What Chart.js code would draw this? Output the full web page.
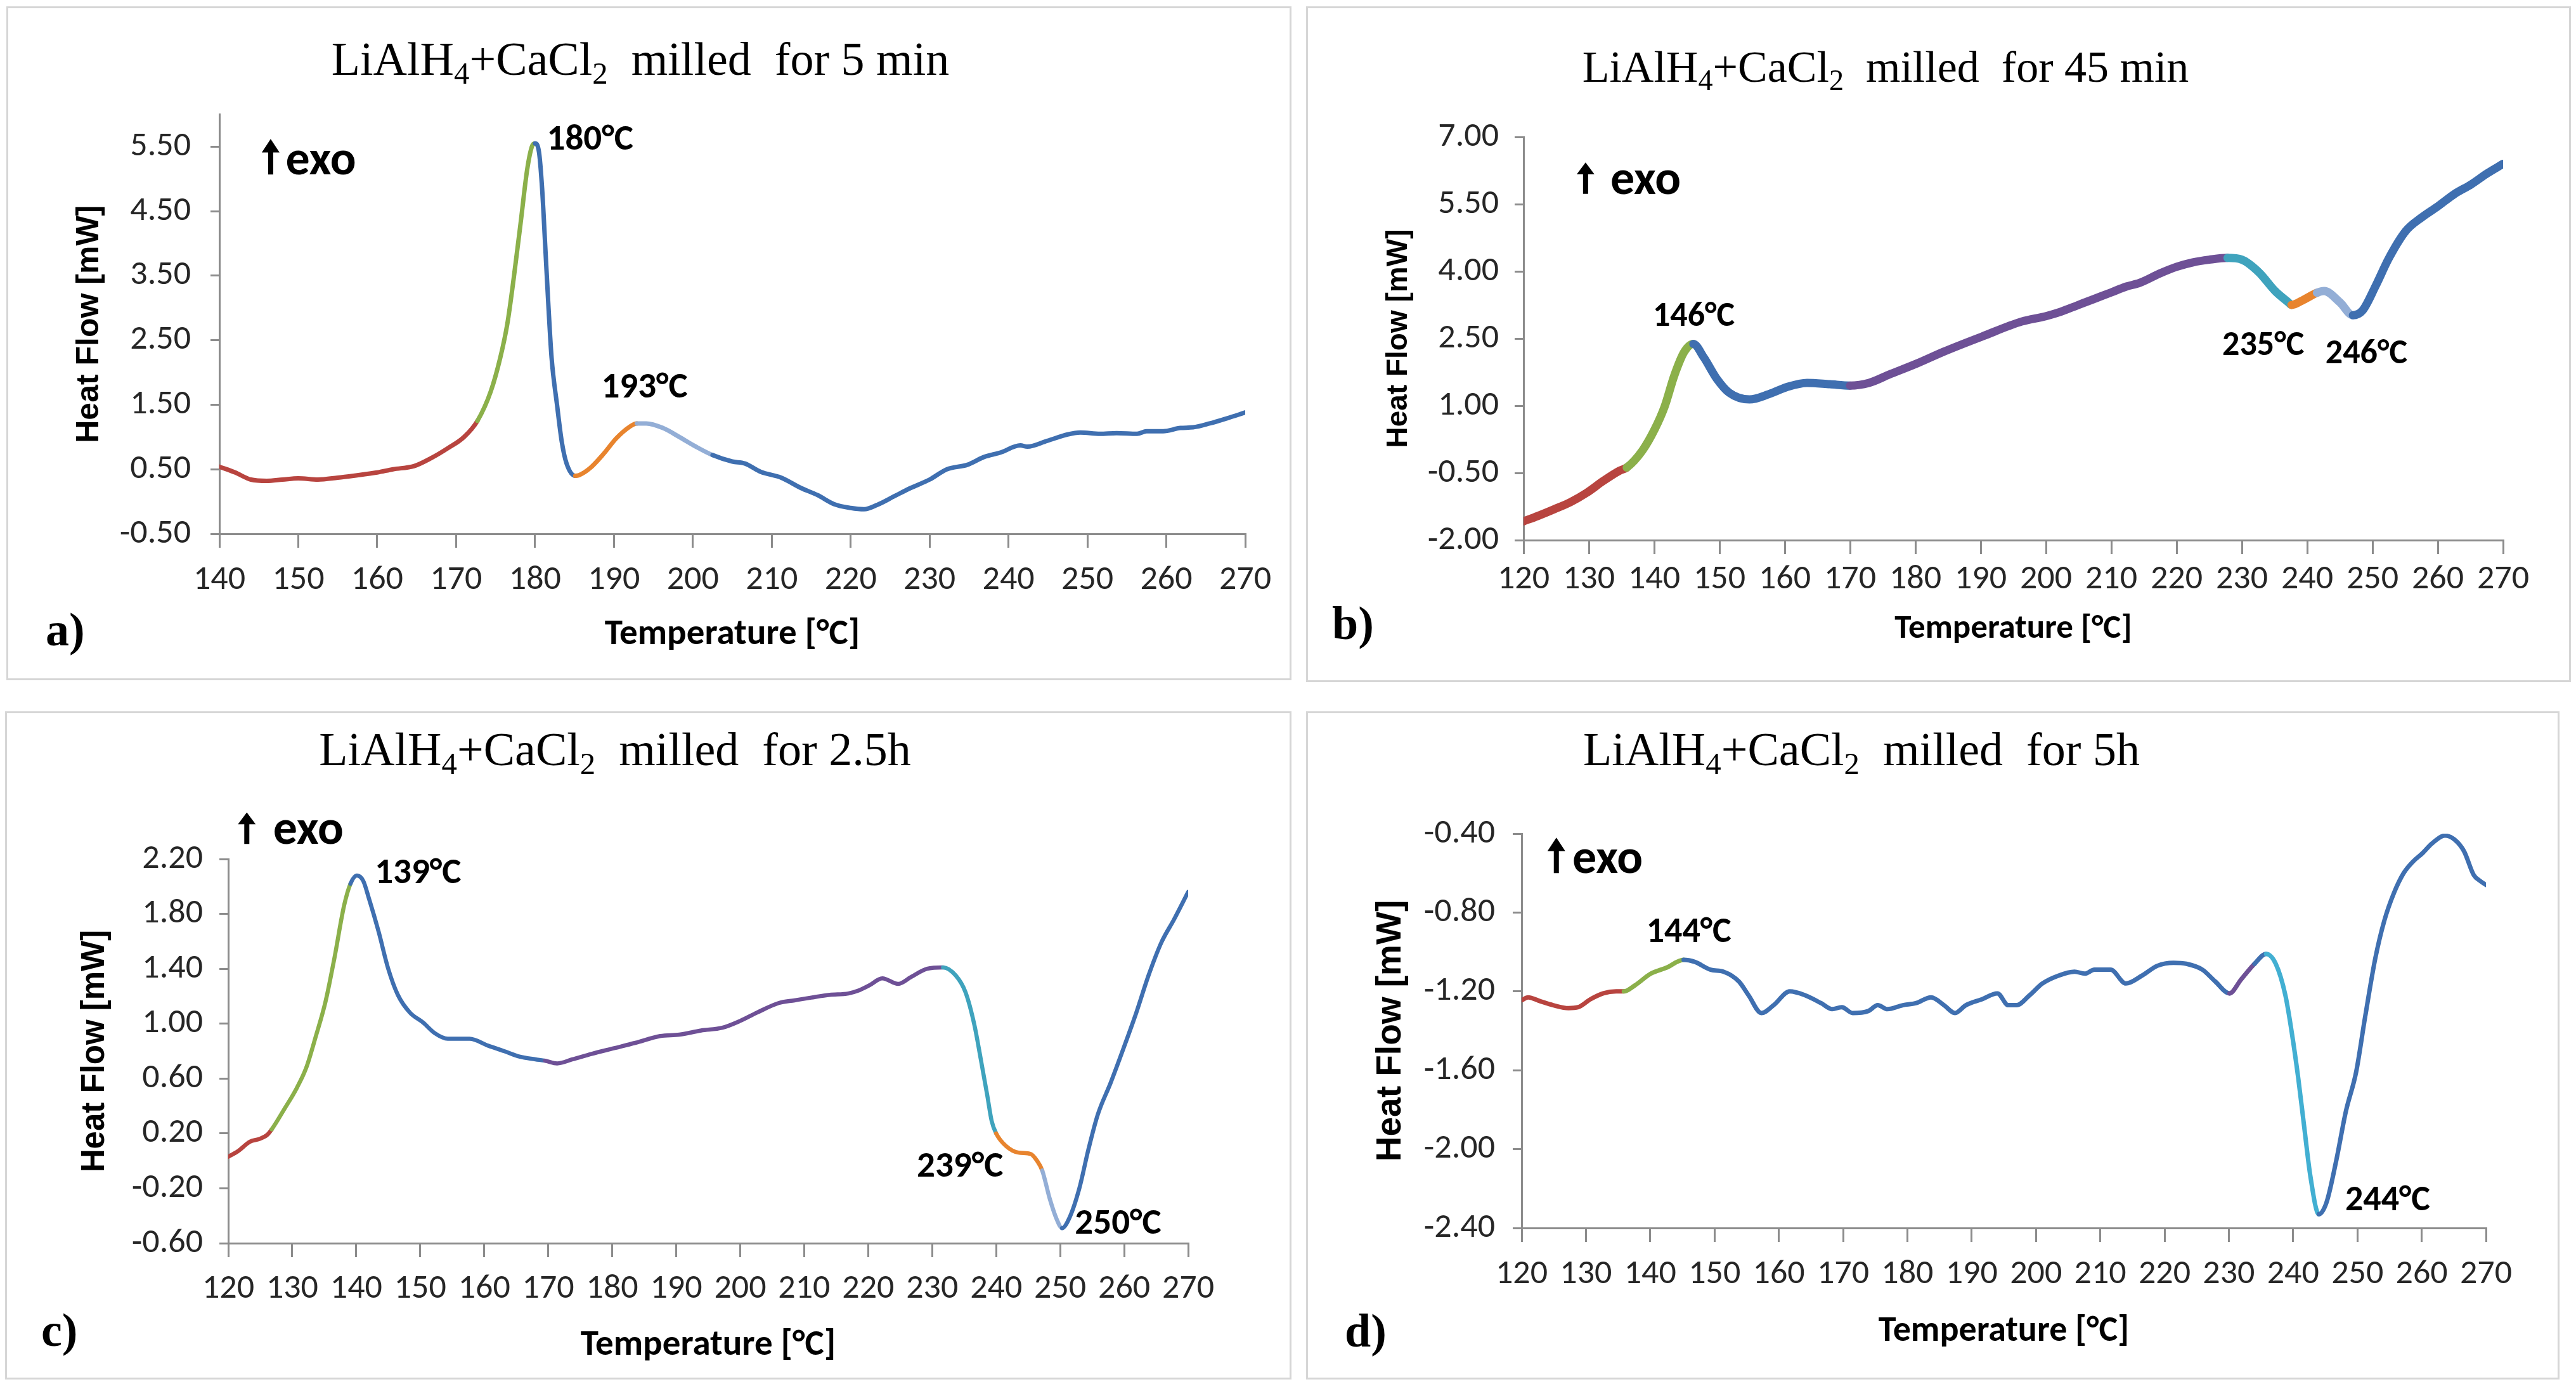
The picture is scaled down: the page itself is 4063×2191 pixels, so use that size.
<!DOCTYPE html>
<html>
<head>
<meta charset="utf-8">
<title>LiAlH4+CaCl2 DSC</title>
<script src="https://cdn.jsdelivr.net/npm/chart.js@4.4.1/dist/chart.umd.min.js"></script>
<style>
  html, body { margin: 0; padding: 0; background: #fff; }
  body { width: 4063px; height: 2191px; position: relative; overflow: hidden; }
  .panel { position: absolute; border: 3px solid #d6d6d6; box-sizing: border-box; background: #fff; }
  .panel canvas { position: absolute; left: 0; top: 0; }
  .ttl { position: absolute; z-index: 2; font-family: "Liberation Serif", "Times New Roman", serif;
         line-height: 1; white-space: pre; transform: translateX(-50%); color: #000; }
  .ttl sub { font-size: 0.66em; vertical-align: -0.28em; line-height: 0; }
  .tag { position: absolute; z-index: 2; font-family: "Liberation Serif", "Times New Roman", serif;
         font-weight: bold; font-size: 74px; line-height: 1; color: #000; }
</style>
</head>
<body>

<div class="panel" style="left:10px;top:10px;width:2027px;height:1063px"><canvas id="cA" width="2021" height="1057"></canvas></div>
<div class="panel" style="left:2060px;top:10px;width:1995px;height:1066px"><canvas id="cB" width="1989" height="1060"></canvas></div>
<div class="panel" style="left:8px;top:1122px;width:2029px;height:1054px"><canvas id="cC" width="2023" height="1048"></canvas></div>
<div class="panel" style="left:2060px;top:1122px;width:1977px;height:1054px"><canvas id="cD" width="1971" height="1048"></canvas></div>

<div class="ttl" style="left:1010px;top:56px;font-size:74px">LiAlH<sub>4</sub>+CaCl<sub>2</sub>  milled  for 5 min</div>
<div class="ttl" style="left:2974px;top:71px;font-size:70px">LiAlH<sub>4</sub>+CaCl<sub>2</sub>  milled  for 45 min</div>
<div class="ttl" style="left:970px;top:1145px;font-size:74px">LiAlH<sub>4</sub>+CaCl<sub>2</sub>  milled  for 2.5h</div>
<div class="ttl" style="left:2936px;top:1145px;font-size:74px">LiAlH<sub>4</sub>+CaCl<sub>2</sub>  milled  for 5h</div>

<div class="tag" style="left:72px;top:956px">a)</div>
<div class="tag" style="left:2101px;top:946px">b)</div>
<div class="tag" style="left:65px;top:2061px">c)</div>
<div class="tag" style="left:2121px;top:2062px">d)</div>

<script>
// ── a) milled 5 min ─────────────────────────────────────────────────────
const tempA = [140, 142, 144, 146, 148, 150, 152.5, 155, 157, 160, 162, 164.7, 166.8, 169, 171, 172.7,
  174.4, 175.6, 176.5, 177.3, 178.2, 179, 179.6, 180, 180.5, 180.9, 181.3, 181.7, 182.1, 182.8, 183.4, 184,
  185.1, 185.6, 187, 188.7, 190.3, 192, 192.9, 194.1, 196.2, 198.3, 200.4, 202.5, 205, 206.6, 208.6, 211.2,
  213.7, 215.8, 217.9, 220, 221.7, 223.4, 225.5, 227.6, 230, 232.2, 234.8, 236.9, 239, 241.5, 242.4, 244.9,
  247.5, 249.1, 251.6, 253.7, 256.3, 257.5, 259.6, 261.8, 263.4, 265.5, 267.7, 270];
const heatA = [0.54, 0.45, 0.34, 0.32, 0.34, 0.36, 0.34, 0.37, 0.40, 0.45, 0.50, 0.55, 0.67, 0.83, 1.00, 1.25,
  1.71, 2.23, 2.76, 3.46, 4.34, 5.14, 5.50, 5.55, 5.42, 4.85, 3.95, 3.03, 2.23, 1.49, 0.92, 0.59,
  0.40, 0.41, 0.52, 0.74, 0.98, 1.16, 1.21, 1.21, 1.14, 1.00, 0.85, 0.72, 0.62, 0.59, 0.46, 0.37,
  0.21, 0.10, -0.04, -0.10, -0.12, -0.05, 0.08, 0.21, 0.34, 0.50, 0.57, 0.69, 0.76, 0.87, 0.85, 0.94,
  1.04, 1.07, 1.05, 1.06, 1.05, 1.09, 1.09, 1.14, 1.15, 1.21, 1.29, 1.38];
const edgesA = [172.7, 179.8, 185.1, 192.9, 202.5];
const partsA = ['red', 'green', 'blue', 'orange', 'pale', 'blue'];
const xTicksA = [140, 150, 160, 170, 180, 190, 200, 210, 220, 230, 240, 250, 260, 270];
const yTicksA = [-0.5, 0.5, 1.5, 2.5, 3.5, 4.5, 5.5];
const peaksA = [['180°C', 181.5, 5.45], ['193°C', 188.4, 1.61]];
const exoA = [146.5, 5.62, 5.07, 148.4];

// ── b) milled 45 min ────────────────────────────────────────────────────
const tempB = [120, 122.2, 124.7, 127.2, 129.7, 132.2, 134.7, 135.8, 138.2, 140.1, 141.6, 143.1, 144.6, 146,
  147.6, 149.6, 151.5, 154.6, 157.6, 160.4, 163.4, 166.9, 170, 172.9, 175.9, 180.2, 184.4, 190.3, 196.3, 200,
  202.3, 204.8, 207.3, 210, 212.3, 214.3, 217.4, 220, 222.5, 225, 227.8, 230, 232.6, 235.1, 237.1, 237.6,
  239.5, 241.5, 242.6, 245, 247, 248.5, 250.5, 252.5, 255.1, 257.6, 260, 262.6, 265.1, 267.6, 270];
const heatB = [-1.58, -1.46, -1.31, -1.15, -0.94, -0.68, -0.45, -0.38, 0.0, 0.48, 0.98, 1.68, 2.20, 2.38,
  2.08, 1.60, 1.29, 1.14, 1.26, 1.42, 1.51, 1.48, 1.45, 1.51, 1.69, 1.94, 2.21, 2.55, 2.88, 3.00,
  3.10, 3.24, 3.38, 3.53, 3.66, 3.74, 3.95, 4.10, 4.20, 4.26, 4.30, 4.26, 3.98, 3.56, 3.31, 3.25,
  3.37, 3.52, 3.56, 3.31, 3.02, 3.13, 3.68, 4.29, 4.90, 5.21, 5.45, 5.73, 5.94, 6.19, 6.40];
const edgesB = [135.8, 146, 170, 227.8, 237.6, 241.5, 247];
const partsB = ['red', 'green', 'blue', 'purple', 'teal', 'orange', 'pale', 'blue'];
const xTicksB = [120, 130, 140, 150, 160, 170, 180, 190, 200, 210, 220, 230, 240, 250, 260, 270];
const yTicksB = [-2, -0.5, 1, 2.5, 4, 5.5, 7];
const peaksB = [['146°C', 139.8, 2.78], ['235°C', 227.0, 2.13], ['246°C', 242.8, 1.95]];
const exoB = [129.5, 6.43, 5.73, 133.3];

// ── c) milled 2.5 h ─────────────────────────────────────────────────────
const tempC = [120, 121.5, 123.4, 124.9, 126.1, 126.8, 128.8, 130.7, 132.2, 133.7, 135.2, 136.6, 138.1, 139.1,
  140.1, 141.1, 142, 143.5, 145, 146.5, 148.4, 150.4, 152.3, 154.3, 157.7, 160.6, 163.1, 165.5, 168, 169.5,
  171.4, 173.8, 176.8, 180.2, 183.6, 187.5, 190.5, 193.9, 197.2, 200, 202.6, 206, 208.5, 211.1, 214, 216.9,
  218.4, 220.2, 222.2, 224.7, 226.7, 229.2, 231.7, 233.7, 235.2, 236.6, 237.6, 238.6, 239.3, 240, 241.5,
  243.5, 245.4, 246.4, 247.2, 248.4, 249.5, 250.3, 251.5, 253, 254.4, 255.9, 257.9, 259.9, 261.9, 263.8,
  265.8, 267.8, 270];
const heatC = [0.03, 0.07, 0.14, 0.16, 0.19, 0.23, 0.38, 0.53, 0.68, 0.91, 1.16, 1.48, 1.86, 2.02,
  2.08, 2.04, 1.91, 1.67, 1.40, 1.21, 1.08, 1.01, 0.93, 0.89, 0.89, 0.84, 0.80, 0.76, 0.74, 0.73,
  0.71, 0.74, 0.78, 0.82, 0.86, 0.91, 0.92, 0.95, 0.97, 1.02, 1.08, 1.15, 1.17, 1.19, 1.21, 1.22,
  1.24, 1.28, 1.33, 1.29, 1.34, 1.40, 1.41, 1.35, 1.23, 0.99, 0.74, 0.48, 0.29, 0.20, 0.11,
  0.06, 0.05, 0.00, -0.07, -0.28, -0.43, -0.49, -0.41, -0.20, 0.08, 0.34, 0.57, 0.82, 1.08, 1.35,
  1.59, 1.76, 1.96];
const edgesC = [126.8, 139.1, 169.5, 231.7, 240, 247.2, 250.3];
const partsC = ['red', 'green', 'blue', 'purple', 'teal', 'orange', 'pale', 'blue'];
const xTicksC = [120, 130, 140, 150, 160, 170, 180, 190, 200, 210, 220, 230, 240, 250, 260, 270];
const yTicksC = [-0.6, -0.2, 0.2, 0.6, 1.0, 1.4, 1.8, 2.2];
const peaksC = [['139°C', 142.9, 2.025], ['239°C', 227.6, -0.115], ['250°C', 252.3, -0.53]];
const exoC = [122.9, 2.54, 2.31, 127.0];

// ── d) milled 5 h ───────────────────────────────────────────────────────
const tempD = [120, 121, 122.9, 124.9, 127.3, 128.8, 130.7, 132.7, 134.7, 135.9, 137.6, 140.1, 142.5, 145.2,
  146.9, 149.4, 151.4, 153.8, 155.3, 157.3, 159.2, 161.7, 164.1, 166.6, 168.3, 169.8, 171.5, 173.9, 175.4,
  176.9, 179.3, 181.3, 183.7, 185.7, 187.4, 189.1, 191.6, 194, 195.7, 197, 199, 201, 203.5, 206, 207.6,
  209.1, 211.6, 214, 216.5, 218.9, 221.4, 223.4, 225.9, 227.9, 230.1, 231.9, 234, 235.8, 237.3, 238.8,
  239.8, 240.8, 241.7, 242.7, 244, 245.2, 246.7, 248.2, 249.8, 251.2, 252.8, 254.2, 255.7, 257.2, 258.7,
  260.1, 261.6, 263.6, 265.1, 266.6, 268.1, 269.1, 270];
const heatD = [-1.245, -1.23, -1.25, -1.27, -1.285, -1.28, -1.24, -1.21, -1.20, -1.20, -1.17, -1.11, -1.08, -1.04,
  -1.05, -1.09, -1.10, -1.15, -1.22, -1.31, -1.27, -1.20, -1.22, -1.26, -1.29, -1.28, -1.31, -1.30, -1.27,
  -1.29, -1.27, -1.26, -1.23, -1.27, -1.31, -1.27, -1.24, -1.21, -1.27, -1.27, -1.22, -1.16, -1.12, -1.10, -1.11,
  -1.09, -1.09, -1.16, -1.12, -1.07, -1.055, -1.06, -1.09, -1.15, -1.21, -1.14, -1.06, -1.01, -1.06, -1.22,
  -1.41, -1.64, -1.88, -2.14, -2.33, -2.27, -2.06, -1.81, -1.61, -1.33, -1.03, -0.84, -0.70, -0.60, -0.54,
  -0.50, -0.45, -0.41, -0.43, -0.49, -0.61, -0.64, -0.66];
const edgesD = [135.9, 145.2, 230.1, 234, 235.8, 244];
const partsD = ['red', 'green', 'blue', 'purple', 'blue', 'cyan', 'blue'];
const xTicksD = [120, 130, 140, 150, 160, 170, 180, 190, 200, 210, 220, 230, 240, 250, 260, 270];
const yTicksD = [-2.4, -2.0, -1.6, -1.2, -0.8, -0.4];
const peaksD = [['144°C', 139.4, -0.95], ['244°C', 248.1, -2.31]];
const exoD = [125.4, -0.42, -0.60, 127.9];

// ── Styles ──────────────────────────────────────────────────────────────
const COLORS = {
  red: '#B8443F', green: '#8BB04A', blue: '#3F6FB0', orange: '#E8842E',
  pale: '#93AED6', purple: '#6E5096', teal: '#3FA3BD', cyan: '#42AFD2'
};
const AXIS = '#8c8c8c';
const TICK_FONT = 'Carlito, Calibri, Lato, sans-serif';
const TICK_SIZE = 54;

function segColor(edges, parts) {
  return c => {
    const mid = (c.p0.parsed.x + c.p1.parsed.x) / 2;
    let i = 0;
    while (i < edges.length && mid > edges[i]) i++;
    return COLORS[parts[i]];
  };
}

// peak labels and the "↑ exo" marker, placed through the chart's own scales
function notesFor(peaks, exo, size) {
  return {
    id: 'notes',
    afterDatasetsDraw(chart) {
      const { ctx, scales: { x, y } } = chart;
      ctx.save();
      ctx.fillStyle = '#000';
      ctx.textAlign = 'left';
      ctx.textBaseline = 'alphabetic';
      ctx.font = `bold ${size}px ${TICK_FONT}`;
      peaks.forEach(([t, px, py]) => ctx.fillText(t, x.getPixelForValue(px), y.getPixelForValue(py)));

      const [ax, aTop, aBase, ex] = exo;
      const cx = x.getPixelForValue(ax), top = y.getPixelForValue(aTop), bot = y.getPixelForValue(aBase);
      const hh = (bot - top) * 0.38, hw = 14, sw = 4;
      ctx.beginPath();
      ctx.moveTo(cx, top);
      ctx.lineTo(cx + hw, top + hh);
      ctx.lineTo(cx + sw, top + hh);
      ctx.lineTo(cx + sw, bot);
      ctx.lineTo(cx - sw, bot);
      ctx.lineTo(cx - sw, top + hh);
      ctx.lineTo(cx - hw, top + hh);
      ctx.closePath();
      ctx.fill();
      ctx.font = `bold 76px ${TICK_FONT}`;
      ctx.fillText('exo', x.getPixelForValue(ex), bot);
      ctx.restore();
    }
  };
}

function makePanel(p) {
  const canvas = document.getElementById(p.id);
  const W = canvas.width, H = canvas.height, a = p.area;
  const last = p.xTicks.length - 1;
  new Chart(canvas, {
    type: 'line',
    data: {
      datasets: [{
        data: p.temp.map((t, i) => ({ x: t, y: p.heat[i] })),
        borderColor: COLORS.blue,
        borderWidth: p.lw,
        borderCapStyle: 'round',
        borderJoinStyle: 'round',
        pointRadius: 0,
        cubicInterpolationMode: 'monotone',
        segment: { borderColor: segColor(p.edges, p.parts) }
      }]
    },
    options: {
      responsive: false,
      animation: false,
      devicePixelRatio: 1,
      layout: { padding: { left: 0, bottom: 0, top: a.top, right: W - a.right } },
      plugins: { legend: { display: false }, tooltip: { enabled: false } },
      scales: {
        x: {
          type: 'linear',
          min: p.xTicks[0], max: p.xTicks[last],
          afterBuildTicks: s => { s.ticks = p.xTicks.map(v => ({ value: v })); },
          afterFit: s => { s.height = H - a.bottom; },
          ticks: { autoSkip: false, maxRotation: 0, padding: p.xPad, color: '#262626',
                   font: { family: TICK_FONT, size: TICK_SIZE }, callback: v => String(v) },
          grid: { drawOnChartArea: false, drawTicks: true, tickLength: 22, color: AXIS, lineWidth: 3 },
          border: { display: true, color: AXIS, width: 3 },
          title: { display: true, text: 'Temperature [°C]', color: '#000',
                   font: { family: TICK_FONT, size: p.xtSize, weight: 'bold' },
                   padding: { top: 0, bottom: p.xtPad } }
        },
        y: {
          type: 'linear',
          min: p.yTicks[0], max: p.yMax,
          afterBuildTicks: s => { s.ticks = p.yTicks.map(v => ({ value: v })); },
          afterFit: s => { s.width = a.left; },
          ticks: { padding: p.yPad, color: '#262626',
                   font: { family: TICK_FONT, size: TICK_SIZE }, callback: v => Number(v).toFixed(2) },
          grid: { drawOnChartArea: false, drawTicks: true, tickLength: 14, color: AXIS, lineWidth: 3 },
          border: { display: true, color: AXIS, width: 3 },
          title: { display: true, text: 'Heat Flow [mW]', color: '#000',
                   font: { family: '"Liberation Sans", Arial, sans-serif', size: p.ytSize, weight: 'bold' },
                   padding: { top: p.ytPad, bottom: 0 } }
        }
      }
    },
    plugins: [notesFor(p.peaks, p.exo, p.noteSize)]
  });
}

makePanel({ id: 'cA', temp: tempA, heat: heatA, edges: edgesA, parts: partsA, xTicks: xTicksA, yTicks: yTicksA,
  yMax: 6.0, peaks: peaksA, exo: exoA, lw: 7, noteSize: 57,
  area: { left: 333, top: 167.5, right: 1951, bottom: 829 },
  xPad: 19, yPad: 31, xtSize: 57, xtPad: 34, ytSize: 50, ytPad: 98 });

makePanel({ id: 'cB', temp: tempB, heat: heatB, edges: edgesB, parts: partsB, xTicks: xTicksB, yTicks: yTicksB,
  yMax: 7.0, peaks: peaksB, exo: exoB, lw: 13, noteSize: 54,
  area: { left: 340, top: 203, right: 1885, bottom: 839 },
  xPad: 8, yPad: 25, xtSize: 53, xtPad: 48, ytSize: 46, ytPad: 116 });

makePanel({ id: 'cC', temp: tempC, heat: heatC, edges: edgesC, parts: partsC, xTicks: xTicksC, yTicks: yTicksC,
  yMax: 2.2, peaks: peaksC, exo: exoC, lw: 6.5, noteSize: 57,
  area: { left: 349, top: 230, right: 1863, bottom: 836 },
  xPad: 18, yPad: 26, xtSize: 57, xtPad: 16, ytSize: 51, ytPad: 108 });

makePanel({ id: 'cD', temp: tempD, heat: heatD, edges: edgesD, parts: partsD, xTicks: xTicksD, yTicks: yTicksD,
  yMax: -0.4, peaks: peaksD, exo: exoD, lw: 7, noteSize: 56,
  area: { left: 337, top: 190, right: 1858, bottom: 812 },
  xPad: 19, yPad: 28, xtSize: 56, xtPad: 38, ytSize: 55, ytPad: 98 });
</script>
</body>
</html>
